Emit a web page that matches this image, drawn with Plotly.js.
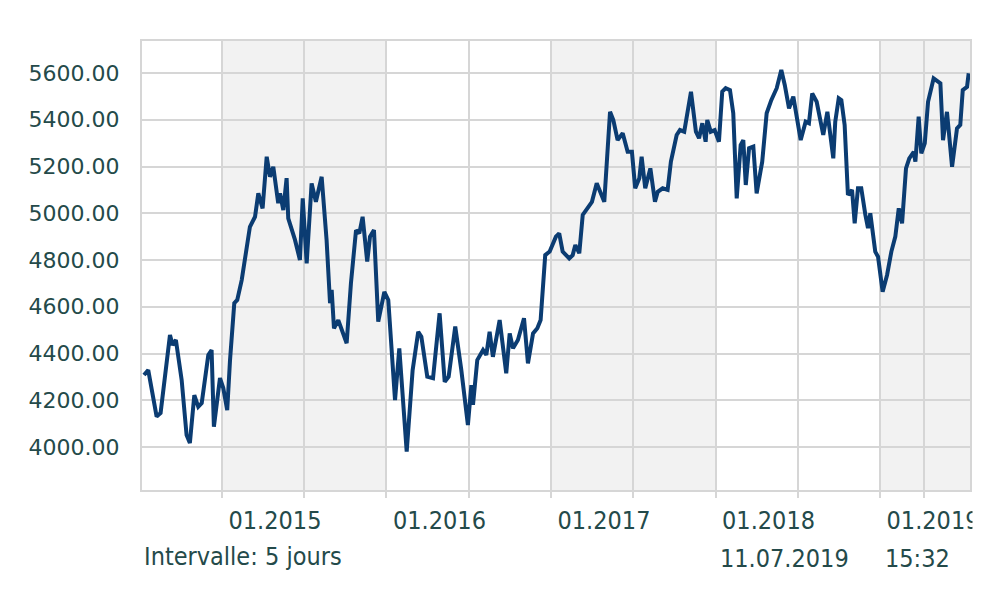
<!DOCTYPE html>
<html>
<head>
<meta charset="utf-8">
<script src="https://cdn.plot.ly/plotly-3.0.1.min.js"></script>
<style>
html,body{margin:0;padding:0;background:#fff;}
#chart{width:1000px;height:594px;}
</style>
</head>
<body>
<div id="chart"></div>
<script>
// time in decimal years (weekly series, 5-day interval)
const dates = [
2014.526,2014.552,2014.603,2014.627,2014.684,2014.700,2014.720,2014.755,2014.785,2014.805,
2014.832,2014.856,2014.877,2014.917,2014.937,2014.951,2014.988,2015.008,2015.032,2015.049,
2015.075,2015.093,2015.120,2015.146,2015.170,2015.201,2015.221,2015.247,2015.272,2015.292,
2015.312,2015.342,2015.353,2015.373,2015.393,2015.403,2015.444,2015.474,2015.491,2015.515,
2015.545,2015.571,2015.606,2015.636,2015.657,2015.667,2015.681,2015.707,2015.758,2015.784,
2015.815,2015.835,2015.855,2015.883,2015.900,2015.924,2015.950,2015.987,2016.011,2016.052,
2016.078,2016.123,2016.159,2016.193,2016.212,2016.248,2016.283,2016.323,2016.354,2016.378,
2016.418,2016.455,2016.495,2016.516,2016.526,2016.552,2016.587,2016.607,2016.627,2016.647,
2016.688,2016.728,2016.749,2016.769,2016.799,2016.836,2016.860,2016.891,2016.917,2016.937,
2016.965,2016.992,2017.030,2017.050,2017.071,2017.111,2017.132,2017.148,2017.172,2017.193,
2017.223,2017.249,2017.278,2017.300,2017.324,2017.359,2017.379,2017.405,2017.436,2017.466,
2017.492,2017.512,2017.537,2017.551,2017.573,2017.604,2017.632,2017.649,2017.679,2017.709,
2017.729,2017.764,2017.784,2017.810,2017.851,2017.881,2017.900,2017.920,2017.940,2017.950,
2017.971,2017.995,2018.021,2018.041,2018.062,2018.088,2018.108,2018.129,2018.153,2018.169,
2018.184,2018.204,2018.230,2018.250,2018.284,2018.311,2018.339,2018.372,2018.400,2018.421,
2018.447,2018.473,2018.518,2018.548,2018.568,2018.588,2018.615,2018.655,2018.680,2018.716,
2018.728,2018.749,2018.765,2018.785,2018.805,2018.830,2018.846,2018.866,2018.886,2018.911,
2018.927,2018.941,2018.971,2018.988,2019.016,2019.043,2019.069,2019.093,2019.114,2019.134,
2019.158,2019.178,2019.205,2019.215,2019.235,2019.251,2019.272,2019.292,2019.326,2019.367,
2019.383,2019.407,2019.438,2019.468,2019.488,2019.503,2019.529,2019.539
];
const values = [
4308,4329,4130,4145,4479,4436,4458,4287,4051,4017,
4222,4172,4188,4394,4415,4087,4295,4252,4158,4372,
4616,4629,4714,4843,4942,4985,5085,5021,5242,5156,
5199,5043,5085,5014,5150,4978,4886,4800,5064,4786,
5128,5049,5156,4886,4615,4672,4508,4543,4444,4700,
4928,4914,4985,4793,4900,4928,4536,4664,4629,4201,
4422,3980,4329,4493,4472,4301,4294,4572,4279,4301,
4515,4329,4094,4265,4180,4372,4415,4394,4493,4386,
4543,4315,4486,4422,4458,4551,4358,4486,4508,4543,
4821,4836,4900,4914,4836,4807,4821,4864,4829,4993,
5021,5049,5128,5092,5049,5434,5399,5313,5342,5263,
5263,5107,5150,5242,5107,5192,5049,5092,5107,5100,
5221,5335,5356,5349,5520,5349,5321,5385,5306,5399,
5349,5356,5306,5520,5535,5527,5428,5064,5292,5313,
5121,5278,5285,5085,5221,5428,5484,5535,5613,5549,
5449,5499,5313,5392,5385,5513,5477,5335,5434,5235,
5392,5492,5484,5378,5078,5100,4957,5107,5107,4993,
4936,5000,4836,4814,4664,4736,4836,4900,5021,4957,
5192,5235,5263,5221,5413,5256,5299,5477,5577,5556,
5313,5434,5199,5363,5378,5527,5541,5599
];
const yearTicks = [2015, 2016, 2017, 2018, 2019];
const yearLabels = ['01.2015', '01.2016', '01.2017', '01.2018', '01.2019'];
const minorTicks = [2015.5, 2016.5, 2017.5, 2018.5, 2019.267];
const yTicks = [4000, 4200, 4400, 4600, 4800, 5000, 5200, 5400, 5600];
const shadedYears = [[2015, 2016], [2017, 2018], [2019, 2020]];
const footerLeft = 'Intervalle: 5 jours';
const footerDate = '11.07.2019';
const footerTime = '15:32';

const gridColor = '#d6d6d6';
const textColor = '#244a4a';

const shapes = shadedYears.map(([a, b]) => ({
  type: 'rect', xref: 'x', yref: 'paper', x0: a, x1: b, y0: 0, y1: 1,
  fillcolor: '#f2f2f2', line: {width: 0}, layer: 'below'
}));
// mask the part of the last date label running past the plot edge
shapes.push({
  type: 'rect', xref: 'paper', yref: 'paper', x0: 1.003, x1: 1.1, y0: -0.12, y1: -0.02,
  fillcolor: '#ffffff', line: {width: 0}, layer: 'above'
});

const trace = {
  x: dates, y: values, type: 'scatter', mode: 'lines',
  line: {color: '#0b3c72', width: 4, shape: 'linear'},
  hoverinfo: 'skip'
};

const layout = {
  width: 1000, height: 594,
  margin: {l: 142, r: 30, t: 41, b: 104},
  paper_bgcolor: '#ffffff', plot_bgcolor: '#ffffff',
  showlegend: false,
  xaxis: {
    range: [2014.514, 2019.547],
    tickmode: 'array', tickvals: yearTicks, ticktext: yearLabels,
    showgrid: true, gridcolor: gridColor, gridwidth: 2,
    ticks: 'outside', ticklen: 6, tickcolor: gridColor, tickwidth: 2,
    ticklabelshift: 53, ticklabelstandoff: 1,
    tickfont: {family: 'DejaVu Sans Condensed', size: 25, color: textColor},
    showline: true, mirror: true, linecolor: gridColor, linewidth: 2,
    zeroline: false, fixedrange: true,
    minor: {tickmode: 'array', tickvals: minorTicks, showgrid: true, gridcolor: gridColor, gridwidth: 2,
            ticks: 'outside', ticklen: 6, tickcolor: gridColor, tickwidth: 2}
  },
  yaxis: {
    range: [3816, 5737],
    tickmode: 'array', tickvals: yTicks, tickformat: '.2f',
    showgrid: true, gridcolor: gridColor, gridwidth: 2,
    ticks: '', ticklabelstandoff: 16,
    tickfont: {family: 'DejaVu Sans', size: 22, color: textColor},
    showline: true, mirror: true, linecolor: gridColor, linewidth: 2,
    zeroline: false, fixedrange: true
  },
  shapes: shapes,
  annotations: [
    {text: footerLeft, xref: 'paper', yref: 'paper', x: 0, y: -0.147, xanchor: 'left', yanchor: 'middle',
     showarrow: false, font: {family: 'DejaVu Sans Condensed', size: 25, color: textColor}},
    {text: footerDate, xref: 'paper', yref: 'paper', x: 0.6957, y: -0.152, xanchor: 'left', yanchor: 'middle',
     showarrow: false, font: {family: 'DejaVu Sans Condensed', size: 25, color: textColor}},
    {text: footerTime, xref: 'paper', yref: 'paper', x: 0.895, y: -0.152, xanchor: 'left', yanchor: 'middle',
     showarrow: false, font: {family: 'DejaVu Sans Condensed', size: 25, color: textColor}}
  ]
};

Plotly.newPlot('chart', [trace], layout, {displayModeBar: false, staticPlot: true});
</script>
</body>
</html>
